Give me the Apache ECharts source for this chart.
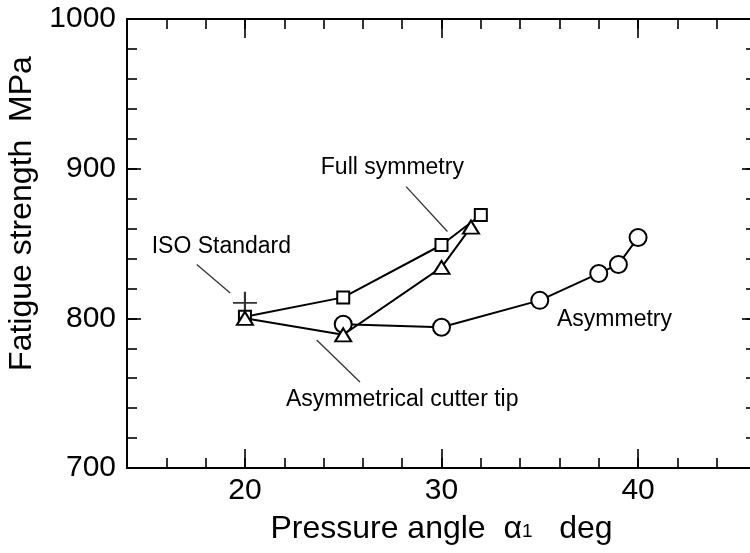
<!DOCTYPE html>
<html>
<head>
<meta charset="utf-8">
<script src="https://cdn.jsdelivr.net/npm/echarts@6/dist/echarts.min.js"></script>
<style>
  html, body { margin: 0; padding: 0; background: #fff; }
  #chart { width: 750px; height: 553px; }
</style>
</head>
<body>
<div id="chart"></div>
<script>
// data
const fullSymX = [20, 25, 30, 32];
const fullSymY = [801, 814, 849, 869];
const cutterX = [20, 25, 30, 31.5];
const cutterY = [800, 789, 834, 861];
const asymX = [25, 30, 35, 38, 39, 40];
const asymY = [796, 794, 812, 830, 836, 854];
const isoX = [20];
const isoY = [811];

const xLabels = [20, 30, 40];
const yLabels = [700, 800, 900, 1000];

const noteNames = ['Full symmetry', 'ISO Standard', 'Asymmetrical cutter tip', 'Asymmetry'];
const noteX = [27.5, 18.8, 28.0, 38.8];
const noteY = [901, 848, 745.5, 799];
const leaderFrom = [[28.2, 888], [17.55, 836], [23.65, 785.5]];
const leaderTo = [[30.3, 858], [19.25, 817], [25.85, 757.5]];

const FONT = "'Liberation Sans', Arial, sans-serif";

const zip = (xs, ys) => xs.map((x, i) => [x, ys[i]]);

const initChart = function () {
  const myChart = echarts.init(document.getElementById('chart'));

  const xBase = { type: 'value', min: 14, max: 46, interval: 2, gridIndex: 0, splitLine: { show: false } };
  const yBase = { type: 'value', min: 700, max: 1000, interval: 20, gridIndex: 0, splitLine: { show: false } };
  const line = { show: true, lineStyle: { color: '#000', width: 2 } };
  const noLine = { show: false };
  const tick = (len, vals) => {
    const t = { show: true, inside: true, length: len, lineStyle: { color: '#000', width: 1.6 } };
    if (vals) t.customValues = vals;
    return t;
  };

  const marker = { color: '#fff', borderColor: '#000', borderWidth: 2 };

  let option = {
    animation: false,
    backgroundColor: '#fff',
    grid: { left: 127, top: 19, width: 629, height: 449, outerBoundsMode: 'none', containLabel: false },
    xAxis: [
      Object.assign({}, xBase, {
        position: 'bottom', axisLine: line, axisTick: tick(10),
        axisLabel: { customValues: xLabels, fontSize: 30, fontFamily: FONT, color: '#000', margin: 8 },
        name: 'Pressure angle  {a|α}{s|1}   deg',
        nameLocation: 'middle', nameGap: 45,
        nameTextStyle: {
          fontSize: 32, fontFamily: FONT, color: '#000',
          rich: {
            a: { fontSize: 32, fontFamily: FONT, color: '#000' },
            s: { fontSize: 19, fontFamily: FONT, color: '#000', padding: [6, 0, 0, 0] }
          }
        }
      }),
      Object.assign({}, xBase, { position: 'bottom', axisLine: noLine, axisTick: tick(19, xLabels), axisLabel: { show: false } }),
      Object.assign({}, xBase, { position: 'top', axisLine: line, axisTick: tick(10), axisLabel: { show: false } }),
      Object.assign({}, xBase, { position: 'top', axisLine: noLine, axisTick: tick(19, xLabels), axisLabel: { show: false } })
    ],
    yAxis: [
      Object.assign({}, yBase, {
        position: 'left', axisLine: line, axisTick: tick(10),
        axisLabel: {
          customValues: yLabels, fontSize: 30, fontFamily: FONT, color: '#000', margin: 11,
          formatter: function (v) { return String(v); }
        },
        name: 'Fatigue strength  MPa',
        nameLocation: 'middle', nameRotate: 90, nameGap: 72,
        nameTextStyle: { fontSize: 32, fontFamily: FONT, color: '#000', padding: [0, 0, 0, 60] }
      }),
      Object.assign({}, yBase, { position: 'left', axisLine: noLine, axisTick: tick(14, yLabels), axisLabel: { show: false } }),
      Object.assign({}, yBase, { position: 'right', axisLine: line, axisTick: tick(10), axisLabel: { show: false } }),
      Object.assign({}, yBase, { position: 'right', axisLine: noLine, axisTick: tick(14, yLabels), axisLabel: { show: false } })
    ],
    series: [
      {
        name: 'Asymmetry', type: 'line', data: zip(asymX, asymY),
        symbol: 'circle', symbolSize: 17, showSymbol: true,
        lineStyle: { color: '#000', width: 2 }, itemStyle: marker, z: 3
      },
      {
        name: 'Full symmetry', type: 'line', data: zip(fullSymX, fullSymY),
        symbol: 'rect', symbolSize: 12, showSymbol: true,
        lineStyle: { color: '#000', width: 2 }, itemStyle: marker, z: 4
      },
      {
        name: 'Asymmetrical cutter tip', type: 'line', data: zip(cutterX, cutterY),
        symbol: 'triangle', symbolSize: [16, 13], showSymbol: true,
        lineStyle: { color: '#000', width: 2 }, itemStyle: marker, z: 5
      },
      {
        name: 'ISO Standard', type: 'scatter', data: zip(isoX, isoY),
        symbol: 'path://M12,0L12,20M0,11L24,11', symbolSize: [24, 20],
        itemStyle: { color: 'none', borderColor: '#000', borderWidth: 2 }, z: 6
      },
      {
        name: 'notes', type: 'scatter', silent: true,
        data: noteNames.map((n, i) => ({ name: n, value: [noteX[i], noteY[i]] })),
        symbolSize: 1, itemStyle: { color: 'rgba(0,0,0,0)' },
        label: {
          show: true, position: 'inside', formatter: '{b}',
          fontSize: 23, fontFamily: FONT, color: '#000',
          opacity: 1, textBorderWidth: 0
        },
        markLine: {
          silent: true, animation: false,
          symbol: ['none', 'none'],
          label: { show: false },
          lineStyle: { color: '#333', width: 1.3, type: 'solid' },
          data: leaderFrom.map((p, i) => [{ coord: p }, { coord: leaderTo[i] }])
        }
      }
    ]
  };

  myChart.setOption(option);
};

window.addEventListener('load', function () {
  initChart();
});
</script>
</body>
</html>
